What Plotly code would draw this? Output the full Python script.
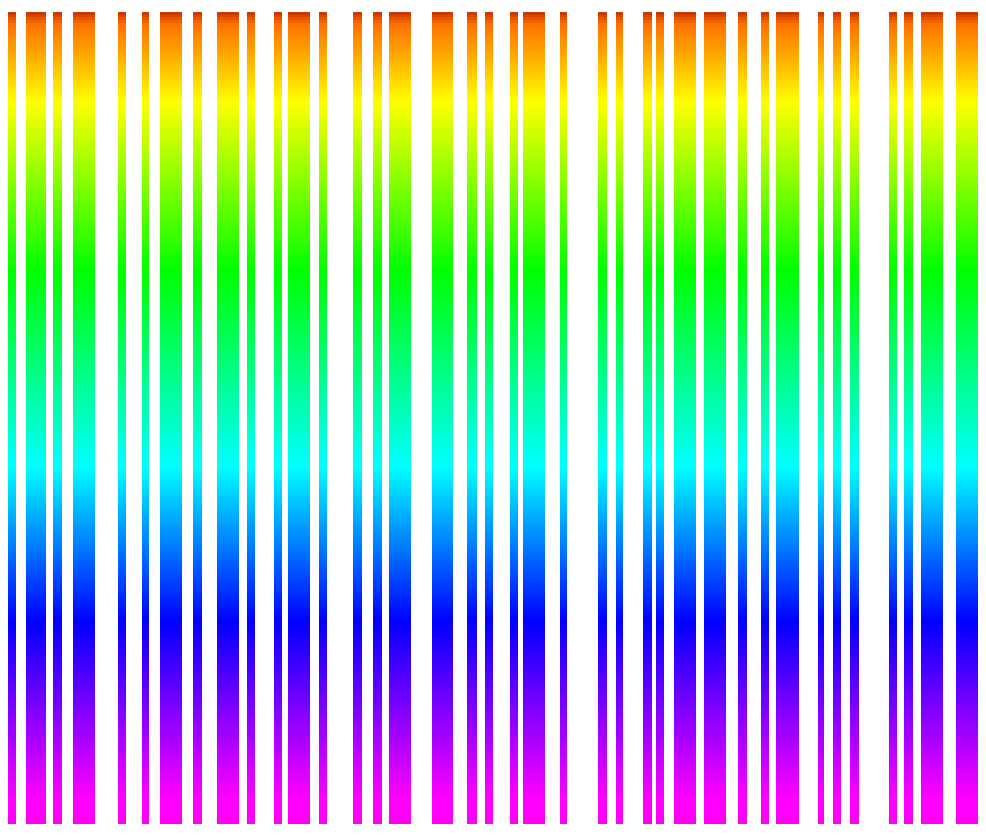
import numpy as np
import plotly.graph_objects as go

# barcode stripes: left edge and width, in screen-pixel-like x units
stripe_left = [8, 26, 53, 73, 118, 142, 160, 193, 217, 247, 274, 288, 319,
               353, 373, 389, 432, 467, 485, 510, 523, 560, 598, 616, 643,
               656, 674, 704, 738, 761, 776, 818, 833, 850, 889, 904, 921, 956]
stripe_width = [8, 20, 9, 22, 8, 7, 22, 9, 22, 8, 8, 22, 8,
                9, 9, 22, 21, 10, 8, 8, 22, 7, 9, 7, 9,
                8, 22, 22, 9, 8, 23, 6, 8, 9, 8, 9, 22, 22]
# vertical extent of the stripes (rows, counted from the top)
y_top = 12
y_bottom = 824

# rainbow ramp, bottom (magenta) to top (orange)
ramp = [
    [0.0, "#ff00f0"],
    [0.03, "#ff00ff"],
    [0.25, "#0000ff"],
    [0.44, "#00ffff"],
    [0.68, "#00ff00"],
    [0.89, "#ffff00"],
    [0.985, "#ff7000"],
    [1.0, "#c83000"],
]

# page body adds an 8px offset, so the axes start at 8
offset = 8

# build column edges: stripe columns hold values, gaps stay empty
x_edges = [offset]
is_stripe = []
for left, w in zip(stripe_left, stripe_width):
    if left > x_edges[-1]:
        x_edges.append(left)
        is_stripe.append(False)
    x_edges.append(left + w)
    is_stripe.append(True)
x_edges.append(986 + offset)
is_stripe.append(False)

n_rows = 300
y_edges = np.linspace(y_top, y_bottom, n_rows + 1)
centers = (y_edges[:-1] + y_edges[1:]) / 2
level = (y_bottom - centers) / (y_bottom - y_top)

z = []
for lv in level:
    z.append([lv if s else None for s in is_stripe])

fig = go.Figure()
fig.add_trace(go.Heatmap(
    x=x_edges,
    y=y_edges,
    z=z,
    colorscale=ramp,
    zmin=0,
    zmax=1,
    showscale=False,
    hoverinfo="skip",
))

fig.update_layout(
    width=986,
    height=836,
    margin=dict(l=0, r=0, t=0, b=0),
    paper_bgcolor="white",
    plot_bgcolor="white",
    xaxis=dict(range=[offset, 986 + offset], visible=False, fixedrange=True),
    yaxis=dict(range=[836 + offset, offset], visible=False, fixedrange=True),
)

fig.write_html("out.html")
